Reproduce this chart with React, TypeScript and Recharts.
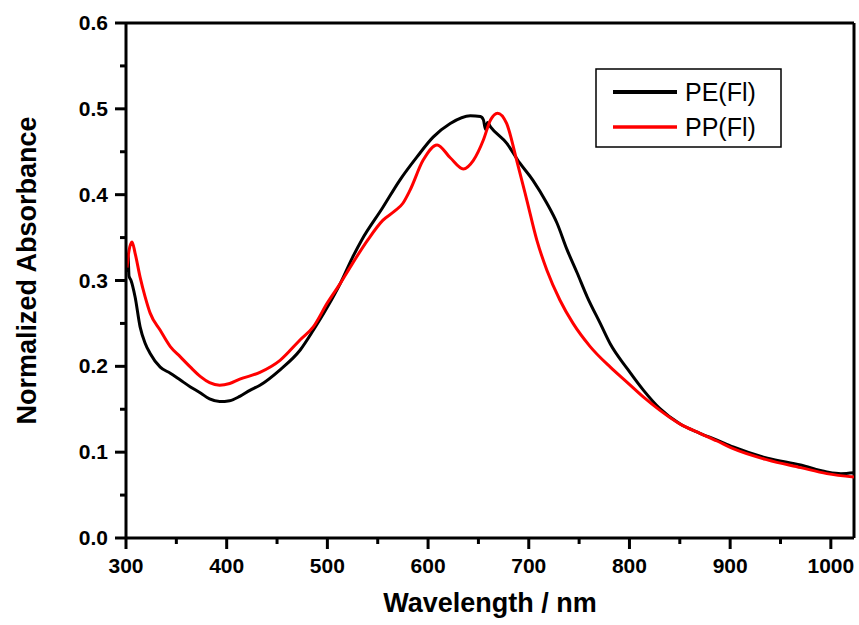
import { LineChart, Line, XAxis, YAxis, ReferenceLine } from 'recharts';

const peWavelength = [301, 302, 303, 305, 309, 314, 319, 324, 334, 344, 354, 364, 374, 383, 393, 403, 413, 423, 433, 453, 473, 486, 500, 513, 525, 534, 555, 572, 589, 605, 622, 642, 652, 655, 657, 659, 662, 678, 691, 704, 718, 728, 738, 748, 758, 771, 781, 798, 814, 830, 850, 870, 887, 903, 937, 970, 996, 1010, 1023];
const peAbsorbance = [0.31, 0.33, 0.305, 0.3, 0.281, 0.246, 0.227, 0.215, 0.199, 0.192, 0.184, 0.176, 0.169, 0.162, 0.159, 0.16, 0.165, 0.172, 0.178, 0.196, 0.219, 0.242, 0.269, 0.297, 0.327, 0.347, 0.385, 0.417, 0.444, 0.467, 0.483, 0.492, 0.491, 0.487, 0.476, 0.484, 0.479, 0.46, 0.437, 0.417, 0.39, 0.367, 0.336, 0.309, 0.281, 0.25, 0.226, 0.197, 0.172, 0.151, 0.133, 0.122, 0.114, 0.106, 0.093, 0.085, 0.077, 0.075, 0.076];

const ppWavelength = [301, 303, 306, 309, 314, 319, 324, 334, 344, 354, 364, 374, 383, 393, 403, 413, 433, 453, 473, 486, 500, 513, 525, 540, 555, 567, 575, 582, 595, 609, 622, 635, 645, 655, 662, 669, 678, 688, 698, 708, 718, 731, 744, 761, 781, 798, 814, 830, 850, 870, 887, 903, 937, 970, 996, 1023];
const ppAbsorbance = [0.315, 0.335, 0.345, 0.332, 0.304, 0.281, 0.262, 0.242, 0.223, 0.211, 0.199, 0.188, 0.181, 0.178, 0.18, 0.185, 0.193, 0.207, 0.231, 0.246, 0.274, 0.297, 0.32, 0.347, 0.37, 0.381, 0.39, 0.405, 0.44, 0.458, 0.443, 0.43, 0.44, 0.464, 0.487, 0.495, 0.483, 0.44, 0.394, 0.347, 0.312, 0.277, 0.25, 0.223, 0.199, 0.181, 0.164, 0.149, 0.133, 0.122, 0.113, 0.104, 0.091, 0.082, 0.075, 0.071];

const xTicks = [300, 350, 400, 450, 500, 550, 600, 650, 700, 750, 800, 850, 900, 950, 1000];
const yTicks = [0, 0.05, 0.1, 0.15, 0.2, 0.25, 0.3, 0.35, 0.4, 0.45, 0.5, 0.55, 0.6];

const peData = peWavelength.map((x, i) => ({ x, y: peAbsorbance[i] }));
const ppData = ppWavelength.map((x, i) => ({ x, y: ppAbsorbance[i] }));

const font = 'Arial, "Liberation Sans", sans-serif';

function XTick(props: any) {
  const { x, y, payload } = props;
  const major = payload.value % 100 === 0;
  return (
    <g>
      <line x1={x} x2={x} y1={y} y2={y + (major ? 11 : 6)} stroke="#000" strokeWidth={3} />
      {major && (
        <text x={x} y={y + 35} textAnchor="middle" fontFamily={font} fontWeight="bold" fontSize={21} fill="#000">
          {payload.value}
        </text>
      )}
    </g>
  );
}

function YTick(props: any) {
  const { x, y, payload } = props;
  const major = Math.round(payload.value * 100) % 10 === 0;
  return (
    <g>
      <line x1={x} x2={x - (major ? 11 : 6)} y1={y} y2={y} stroke="#000" strokeWidth={3} />
      {major && (
        <text x={x - 18} y={y + 7} textAnchor="end" fontFamily={font} fontWeight="bold" fontSize={21} fill="#000">
          {payload.value.toFixed(1)}
        </text>
      )}
    </g>
  );
}

function XTitle(props: any) {
  const { x, y, width } = props.viewBox;
  return (
    <text x={x + width / 2} y={y + 74} textAnchor="middle" fontFamily={font} fontWeight="bold" fontSize={27} fill="#000">
      Wavelength / nm
    </text>
  );
}

function YTitle(props: any) {
  const { y, height } = props.viewBox;
  const cy = y + height / 2 - 10;
  return (
    <text x={36} y={cy} transform={`rotate(-90, 36, ${cy})`} textAnchor="middle" fontFamily={font} fontWeight="bold" fontSize={27} fill="#000">
      Normalized Absorbance
    </text>
  );
}

function LegendBox() {
  return (
    <svg width={187} height={80} style={{ position: 'absolute', left: 595, top: 68 }}>
      <rect x={1} y={1} width={185} height={78} fill="#fff" stroke="#000" strokeWidth={1.5} />
      <line x1={18} x2={82} y1={24} y2={24} stroke="#000" strokeWidth={4} />
      <text x={90} y={33} fontFamily={font} fontSize={25} fill="#000">PE(Fl)</text>
      <line x1={18} x2={82} y1={59} y2={59} stroke="#ff0000" strokeWidth={3.5} />
      <text x={90} y={68} fontFamily={font} fontSize={25} fill="#000">PP(Fl)</text>
    </svg>
  );
}

export default function App() {
  return (
    <div style={{ position: 'absolute', left: 0, top: 0, width: 859, height: 625, background: '#fff' }}>
      <LineChart width={859} height={625} margin={{ top: 23, right: 5, bottom: 0, left: 0 }}>
        <XAxis
          type="number"
          dataKey="x"
          domain={[300, 1023]}
          allowDataOverflow
          ticks={xTicks}
          interval={0}
          tickLine={false}
          tickSize={0}
          tickMargin={0}
          tick={<XTick />}
          height={87}
          axisLine={{ stroke: '#000', strokeWidth: 3 }}
          label={<XTitle />}
        />
        <YAxis
          type="number"
          dataKey="y"
          domain={[0, 0.6]}
          allowDataOverflow
          ticks={yTicks}
          interval={0}
          tickLine={false}
          tickSize={0}
          tickMargin={0}
          tick={<YTick />}
          width={126}
          axisLine={{ stroke: '#000', strokeWidth: 3 }}
          label={<YTitle />}
        />
        <ReferenceLine y={0.6} stroke="#000" strokeWidth={3} />
        <ReferenceLine x={1023} stroke="#000" strokeWidth={3} />
        <Line data={peData} dataKey="y" type="monotone" stroke="#000" strokeWidth={3} dot={false} isAnimationActive={false} />
        <Line data={ppData} dataKey="y" type="monotone" stroke="#ff0000" strokeWidth={3} dot={false} isAnimationActive={false} />
      </LineChart>
      <LegendBox />
    </div>
  );
}
